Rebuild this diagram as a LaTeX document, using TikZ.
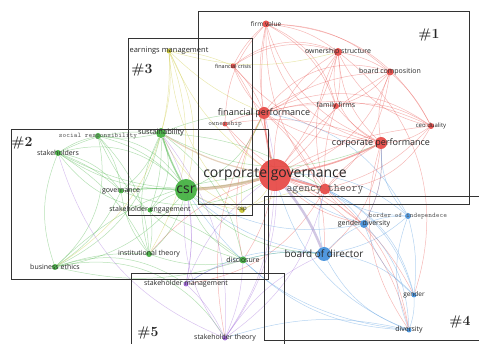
\documentclass[tikz,border=0pt]{standalone}
\usepackage{fontspec}
\newfontfamily\vosfont{Open Sans}
\usetikzlibrary{backgrounds}

\definecolor{vred}{HTML}{E5433F}
\definecolor{vgreen}{HTML}{3DAE3A}
\definecolor{vyellow}{HTML}{C6C22A}
\definecolor{vblue}{HTML}{3E8DDA}
\definecolor{vpurple}{HTML}{9B61D6}
\definecolor{vtan}{HTML}{C9A37C}
\definecolor{vlav}{HTML}{B3A2D0}

\tikzset{
  vdot/.style={circle, fill=#1, fill opacity=.9, inner sep=0pt},
  lbl/.style={font=\vosfont\fontsize{7}{8}\selectfont, text=black!85, inner sep=0pt},
  grlbl/.style={font=\ttfamily\fontsize{7}{8}\selectfont, text=black!65, inner sep=0pt},
  link/.style={draw=#1, opacity=.38, line width=.5pt},
  clusterbox/.style={draw=black!80, line width=.9pt},
  boxnum/.style={font=\bfseries\fontsize{14}{15}\selectfont, text=black!85, inner sep=0pt}
}

\begin{document}
\begin{tikzpicture}[x=1pt,y=-1pt]
\useasboundingbox (0,0) rectangle (479,344);
\clip (0,0) rectangle (479,344);

% cluster 1
\node[vdot=vred, minimum size=32pt, label={[lbl,font=\vosfont\fontsize{14}{15}\selectfont]center:corporate governance}] (cg) at (275,175) {};
\node[vdot=vred, minimum size=11pt, label={[grlbl,font=\ttfamily\fontsize{11.5}{12}\selectfont]center:agency theory}] (at) at (325,189) {};
\node[vdot=vred, minimum size=12pt, label={[lbl,font=\vosfont\fontsize{9}{10}\selectfont]center:financial performance}] (fp) at (264,113) {};
\node[vdot=vred, minimum size=5pt, label={[grlbl]center:ownership}] (own) at (225,124) {};
\node[vdot=vred, minimum size=6pt, label={[lbl]center:family firms}] (fam) at (336,106) {};
\node[vdot=vred, minimum size=12pt, label={[lbl,font=\vosfont\fontsize{9}{10}\selectfont]center:corporate performance}] (cp) at (381,143) {};
\node[vdot=vred, minimum size=6pt, label={[lbl,font=\vosfont\fontsize{6}{7}\selectfont]center:ceo duality}] (ceo) at (431,126) {};
\node[vdot=vred, minimum size=7pt, label={[lbl]center:board composition}] (bc) at (390,72) {};
\node[vdot=vred, minimum size=8pt, label={[lbl]center:ownership structure}] (os) at (338,52) {};
\node[vdot=vred, minimum size=7pt, label={[lbl,font=\vosfont\fontsize{6.5}{7}\selectfont]center:firm value}] (fv) at (266,24) {};
\node[vdot=vred, minimum size=5pt, label={[lbl,font=\vosfont\fontsize{5.5}{6}\selectfont]center:financial crisis}] (fc) at (233,66) {};

% cluster 2
\node[vdot=vgreen, minimum size=22pt, label={[lbl,font=\vosfont\fontsize{14}{15}\selectfont]center:csr}] (csr) at (186,190) {};
\node[vdot=vgreen, minimum size=10pt, label={[lbl,font=\vosfont\fontsize{7.5}{8}\selectfont]center:sustainability}] (sus) at (161,133) {};
\node[vdot=vgreen, minimum size=6pt, label={[grlbl]center:social responsibility}] (sr) at (98,136) {};
\node[vdot=vgreen, minimum size=6pt, label={[lbl]center:stakeholders}] (sh) at (58,153) {};
\node[vdot=vgreen, minimum size=5pt, label={[lbl]center:governance}] (gov) at (121,191) {};
\node[vdot=vgreen, minimum size=5pt, label={[lbl]center:stakeholder engagement}] (se) at (150,210) {};
\node[vdot=vgreen, minimum size=6pt, label={[lbl]center:institutional theory}] (it) at (149,254) {};
\node[vdot=vgreen, minimum size=6pt, label={[lbl]center:business ethics}] (be) at (55,267) {};
\node[vdot=vgreen, minimum size=7pt, label={[lbl]center:disclosure}] (disc) at (243,260) {};

% cluster 3
\node[vdot=vyellow, minimum size=5pt, label={[lbl,font=\vosfont\fontsize{7.5}{8}\selectfont]center:earnings management}] (em) at (169,51) {};
\node[vdot=vyellow, minimum size=6pt, label={[lbl,font=\vosfont\fontsize{6}{7}\selectfont]center:csp}] (csp) at (242,210) {};

% cluster 4
\node[vdot=vblue, minimum size=14pt, label={[lbl,font=\vosfont\fontsize{10}{11}\selectfont]center:board of director}] (bod) at (324,254) {};
\node[vdot=vblue, minimum size=8pt, label={[lbl]center:gender diversity}] (gd) at (364,224) {};
\node[vdot=vblue, minimum size=6pt, label={[grlbl]center:border of independece}] (bi) at (408,216) {};
\node[vdot=vblue, minimum size=5pt, label={[lbl,font=\vosfont\fontsize{6.5}{7}\selectfont]center:gender}] (gen) at (414,295) {};
\node[vdot=vblue, minimum size=5pt, label={[lbl]center:diversity}] (div) at (409,330) {};

% cluster 5
\node[vdot=vpurple, minimum size=5pt, label={[lbl]center:stakeholder management}] (sm) at (186,284) {};
\node[vdot=vpurple, minimum size=5pt, label={[lbl]center:stakeholder theory}] (st) at (225,338) {};

% links
\begin{pgfonlayer}{background}
\foreach \a/\b/\bb in {cg/fv/10, cg/os/-10, cg/bc/10, cg/fam/-10, cg/ceo/10, cg/fc/-10, cg/own/10,
  fp/fv/10, fp/os/-15, fp/bc/15, fp/fam/10, fp/cp/-15, fp/at/15, fp/ceo/20, fp/fc/10,
  cp/bc/15, cp/ceo/-15, cp/os/20, cp/at/-10, cp/fam/10, cp/fv/25,
  os/fam/10, os/fv/-15, os/bc/10, os/at/-20, bc/ceo/10, bc/fv/-20, bc/fam/15, bc/at/20,
  fv/fc/-10, fv/ceo/30, fv/at/-20, at/fam/10, at/ceo/-15, fc/fp/10, own/fp/10, own/cp/15,
  cg/gd/-15, cg/gen/20, cg/div/25, cp/gd/15, at/gd/-10, cp/bod/20, fp/bod/25, at/div/20,
  os/gen/35, cg/disc/10, cg/it/-15, fp/disc/-20, at/sm/25, ceo/os/25, ceo/fam/-20,
  ceo/fp/-30, fv/cp/-35, fv/fam/20, os/cp/-40, bc/fp/-35, fc/os/25, fc/cp/-20, own/at/-15,
  fam/fv/-25, ceo/at/30, fv/own/-20, os/fc/-30, cg/os/30, cg/bc/-25, fp/st/-20, cp/div/-25}
  \draw[link=vred] (\a) to[bend left=\bb] (\b);
\foreach \a/\b/\bb in {csr/sr/-15, csr/sh/15, csr/se/-10, csr/it/15, csr/be/20, csr/disc/-20,
  sus/sr/10, sus/sh/-15, sus/gov/15, sus/se/10, sus/it/-20, sus/be/25, sh/sr/10, sh/be/-20,
  gov/be/15, gov/sh/-10, se/it/10, it/be/-10, sr/be/30, sus/disc/20, sr/disc/-25, sh/it/15,
  sh/gov/20, sr/gov/15, se/disc/10, be/disc/-15, sr/csr/25, csr/bod/-20, sus/fp/10,
  csr/fp/-20, sh/cg/-20, be/cg/20, gov/cg/-25, disc/bod/10, sus/cp/-25, be/sm/25,
  be/st/35, sh/se/-20, sr/it/20, gov/it/-15, se/sus/-30, csr/sh/-30, sus/at/15, it/disc/-15}
  \draw[link=vgreen] (\a) to[bend left=\bb] (\b);
\foreach \a/\b/\bb in {em/sus/10, em/cg/-15, em/csr/20, em/fp/-10, em/fc/10, csp/csr/10,
  csp/cg/-15, csp/sus/20, em/csp/-20, csp/fp/15, em/it/25, csp/at/10, em/os/-15, em/be/30}
  \draw[link=vyellow] (\a) to[bend left=\bb] (\b);
\foreach \a/\b/\bb in {bod/gd/10, bod/bi/-15, bod/gen/20, bod/div/-20, gd/bi/10, gd/gen/-15,
  gd/div/20, bi/gen/10, bi/div/-20, gen/div/10, bod/at/15, gd/cg/10, bi/cg/-20, bod/disc/-10,
  bod/csr/15, gd/at/-10, div/cg/25, bi/at/15, gen/at/-25, div/disc/20, bod/sm/-20, gd/cp/-15,
  bi/cp/20, div/st/-15, gen/cg/-30, div/csr/25, bi/fp/-25, gd/csr/20}
  \draw[link=vblue] (\a) to[bend left=\bb] (\b);
\foreach \a/\b/\bb in {sm/st/10, st/cg/-15, st/csr/20, sm/csr/-10, sm/cg/15, st/disc/-10,
  st/bod/15, sm/sus/-20, st/sh/25, st/sus/-20, sm/disc/10, st/at/-20, st/fp/-25}
  \draw[link=vpurple] (\a) to[bend left=\bb] (\b);
% strong links
\draw[link=vtan, line width=3pt, opacity=.6] (cg) to[bend left=5] (csr);
\draw[link=vtan, line width=1.2pt, opacity=.5] (cg) to[bend left=10] (sus);
\draw[link=vlav, line width=2.5pt, opacity=.6] (cg) to[bend left=8] (bod);
\draw[link=vred, line width=1.5pt, opacity=.45] (cg) to[bend left=5] (fp);
\draw[link=vred, line width=1.5pt, opacity=.45] (cg) to[bend right=8] (cp);
\draw[link=vred, line width=2pt, opacity=.5] (cg) to (at);
\draw[link=vgreen, line width=1.5pt, opacity=.5] (csr) to[bend left=5] (sus);
\draw[link=vgreen, line width=1pt, opacity=.45] (csr) to[bend right=5] (gov);
\end{pgfonlayer}

% cluster boxes
\draw[clusterbox] (198,11) rectangle (469,204);
\draw[clusterbox] (11,129) rectangle (268,279);
\draw[clusterbox] (128,38) rectangle (252,215);
\draw[clusterbox] (264,196) rectangle (485,340);
\draw[clusterbox] (131,273) rectangle (284,350);
\node[boxnum] (n1) at (429,35) {\#1};
\node[boxnum] (n2) at (22,143) {\#2};
\node[boxnum] (n3) at (142,70) {\#3};
\node[boxnum] (n4) at (460,322) {\#4};
\node[boxnum] (n5) at (148,333) {\#5};
\end{tikzpicture}
\end{document}
